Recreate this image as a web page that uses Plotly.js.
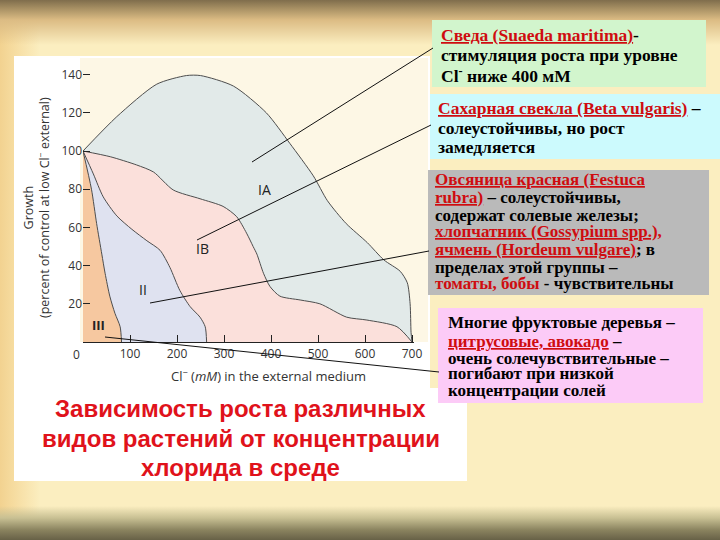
<!DOCTYPE html>
<html><head><meta charset="utf-8">
<script src="https://cdn.plot.ly/plotly-3.0.1.min.js"></script>
<style>
html,body{margin:0;padding:0;}
body{width:720px;height:540px;overflow:hidden;
background:
 linear-gradient(to bottom, #7f6d4c 0px, #a58e62 8px, #dcbc84 20px, rgba(243,219,163,0) 45px),
 linear-gradient(to top, #676147 0px, #8a835f 10px, #c8c093 22px, rgba(251,241,196,0) 34px),
 linear-gradient(to right, #f2d290 0px, #f6dca0 14px, rgba(250,236,186,0) 40px),
 #fbeec0;}
#chart{width:720px;height:540px;}
</style></head><body><div id="chart"></div>
<script>
// ---- data ----
const chlorideTicks = [100, 200, 300, 400, 500, 600, 700];
const growthTicks = [20, 40, 60, 80, 100, 120, 140];
const groupNames = ["IA", "IB", "II", "III"];

const groupIA_x = [0, 72, 157, 220, 250, 320, 390, 440, 490, 520, 560, 605, 640, 675, 690, 696, 698, 700];
const groupIA_y = [100, 118, 135, 139.5, 139.5, 134, 120, 104, 87, 74, 62, 52, 43, 37, 31, 20, 5, 0];

const groupIB_x = [0, 58, 114, 150, 192, 249, 298, 327, 348, 362, 370, 384, 398, 419, 462, 504, 561, 604, 668, 700];
const groupIB_y = [100, 97, 92.7, 89, 79.6, 75, 71, 65.6, 57, 50, 46, 36, 29, 24, 22, 20, 13, 11.5, 8, 0];

const groupII_x = [0, 22, 43, 72, 104, 136, 164, 185, 206, 228, 249, 260, 263];
const groupII_y = [100, 88, 76, 66, 59, 53, 48, 39, 27, 18.5, 13, 8, 0];

const groupIII_x = [0, 18, 29, 40, 47, 57, 68, 79, 82];
const groupIII_y = [100, 80, 62, 46, 36, 24, 15, 8, 0];

// ---- helpers for slide-pixel placement ----
const W = 720, H = 540;
const px = x => x / W;
const py = y => 1 - y / H;

const fills = ["#e2eae9", "#fbe0db", "#dfe2f0", "#f6c8a0"];
const xs = [groupIA_x, groupIB_x, groupII_x, groupIII_x];
const ys = [groupIA_y, groupIB_y, groupII_y, groupIII_y];

const traces = xs.map((x, i) => ({
  type: "scatter", mode: "lines", x: x, y: ys[i], name: groupNames[i],
  fill: "tozeroy", fillcolor: fills[i],
  line: {color: "#4d4d4d", width: 1, shape: "spline", smoothing: 0.7},
  hoverinfo: "skip"
}));

function rect(x0, y0, x1, y1, color, layer) {
  return {type: "rect", xref: "paper", yref: "paper", x0: px(x0), x1: px(x1), y0: py(y1), y1: py(y0),
    fillcolor: color, line: {width: 0}, layer: layer || "below"};
}
function seg(x0, y0, x1, y1) {
  return {type: "line", xref: "paper", yref: "paper", x0: px(x0), y0: py(y0), x1: px(x1), y1: py(y1),
    line: {color: "#111", width: 1}, layer: "above"};
}

const RED = "#cf0c10";
const U = t => '<span style="text-decoration:underline;color:' + RED + '">' + t + '</span>';
const R = t => '<span style="color:' + RED + '">' + t + '</span>';

const SERIF = "Liberation Serif, Times New Roman, serif";
function line(x, y, t, size) {
  return {xref: "paper", yref: "paper", x: px(x), y: py(y), xanchor: "left", yanchor: "middle",
    text: "<b>" + t + "</b>", showarrow: false, borderpad: 0,
    font: {family: SERIF, size: size, color: "#000"}};
}

const boxLines = [
  // box 1
  line(440, 35, U("Сведа (Suaeda maritima)") + "-", 17.5),
  line(440, 55, "стимуляция роста при уровне", 17.5),
  line(440, 75, "Cl<sup>-</sup> ниже 400 мМ", 17.5),
  // box 2
  line(437, 108, U("Сахарная свекла (Beta vulgaris)") + " –", 17.5),
  line(437, 128, "солеустойчивы, но рост", 17.5),
  line(437, 147, "замедляется", 17.5),
  // box 3
  line(434, 180, U("Овсяница красная (Festuca"), 17),
  line(434, 197, U("rubra)") + " – солеустойчивы,", 17),
  line(434, 215, "содержат солевые железы;", 17),
  line(434, 232, U("хлопчатник (Gossypium spp.),"), 17),
  line(434, 249.5, U("ячмень (Hordeum vulgare)") + "; в", 17),
  line(434, 267, "пределах этой группы –", 17),
  line(434, 283, R("томаты, бобы") + " - чувствительны", 17),
  // box 4
  line(447, 322, "Многие фруктовые деревья –", 17),
  line(447, 341.5, U("цитрусовые, авокадо") + " –", 17),
  line(447, 358, "очень солечувствительные –", 17),
  line(447, 374, "погибают при низкой", 17),
  line(447, 390, "концентрации солей", 17)
];

const figFont = {family: "Open Sans, Noto Sans, sans-serif", size: 12, color: "#333"};
const titleFont = {family: "Liberation Sans, Arial, sans-serif", size: 24, color: "#e0121b"};
function titleLine(y, t) {
  return {xref: "paper", yref: "paper", x: px(241), y: py(y), xanchor: "center", yanchor: "middle",
    text: "<b>" + t + "</b>", showarrow: false, font: titleFont, borderpad: 0};
}

const annotations = [
  titleLine(408, "Зависимость роста различных"),
  titleLine(438, "видов растений от концентрации"),
  titleLine(467, "хлорида в среде"),
  {xref: "paper", yref: "paper", x: px(268), y: py(375), xanchor: "center", yanchor: "middle",
   text: "Cl<sup>−</sup> (<i>mM</i>) in the external medium", showarrow: false, font: {...figFont, size: 13}},
  {xref: "paper", yref: "paper", x: px(36), y: py(208), xanchor: "center", yanchor: "middle", textangle: -90,
   text: "Growth<br>(percent of control at low Cl<sup>−</sup> external)", showarrow: false, font: {...figFont, size: 12.5}},
  {xref: "paper", yref: "paper", x: px(76), y: py(354), xanchor: "center", yanchor: "middle",
   text: "0", showarrow: false, font: figFont},
  {xref: "x", yref: "y", x: 387, y: 79.6, text: groupNames[0], showarrow: false, font: {...figFont, size: 14, color: "#222"}},
  {xref: "x", yref: "y", x: 255, y: 49.2, text: groupNames[1], showarrow: false, font: {...figFont, size: 14, color: "#222"}},
  {xref: "x", yref: "y", x: 128, y: 27.7, text: groupNames[2], showarrow: false, font: {...figFont, size: 14, color: "#222"}},
  {xref: "x", yref: "y", x: 32, y: 8.9, text: "<b>" + groupNames[3] + "</b>", showarrow: false, font: {...figFont, size: 13, color: "#222"}}
].concat(boxLines);

const shapes = [
  rect(14, 56, 430, 481, "#ffffff"),
  rect(14, 388, 467, 481, "#ffffff"),
  rect(80, 58, 428, 342, "#fdf7e5"),
  rect(432, 20, 706, 87, "#d2f5cd"),
  rect(430, 94, 720, 159, "#ccfafd"),
  rect(428, 170, 709, 295, "#bababa"),
  rect(438, 308, 703, 403, "#fccbf7"),
  seg(433, 48, 252, 162),
  seg(431, 125, 197, 240),
  seg(429, 251, 150, 303),
  seg(439, 372, 105, 337)
];

const layout = {
  width: W, height: H, margin: {l: 0, r: 0, t: 0, b: 0, pad: 0},
  paper_bgcolor: "rgba(0,0,0,0)", plot_bgcolor: "rgba(0,0,0,0)",
  showlegend: false,
  xaxis: {domain: [px(83), px(83 + 705 * 0.47)], range: [0, 705], tickvals: chlorideTicks,
    ticks: "inside", ticklen: 7, tickcolor: "#222", tickwidth: 1,
    showline: true, linecolor: "#222", linewidth: 1.2, showgrid: false, zeroline: false,
    tickfont: figFont, fixedrange: true},
  yaxis: {domain: [py(342), py(342 - 141 * 1.91)], range: [0, 141], tickvals: growthTicks,
    ticks: "inside", ticklen: 7, tickcolor: "#222", tickwidth: 1,
    showline: false, showgrid: false, zeroline: false, tickfont: figFont, fixedrange: true},
  shapes: shapes,
  annotations: annotations
};

Plotly.newPlot("chart", traces, layout, {displayModeBar: false, staticPlot: true});
</script></body></html>
